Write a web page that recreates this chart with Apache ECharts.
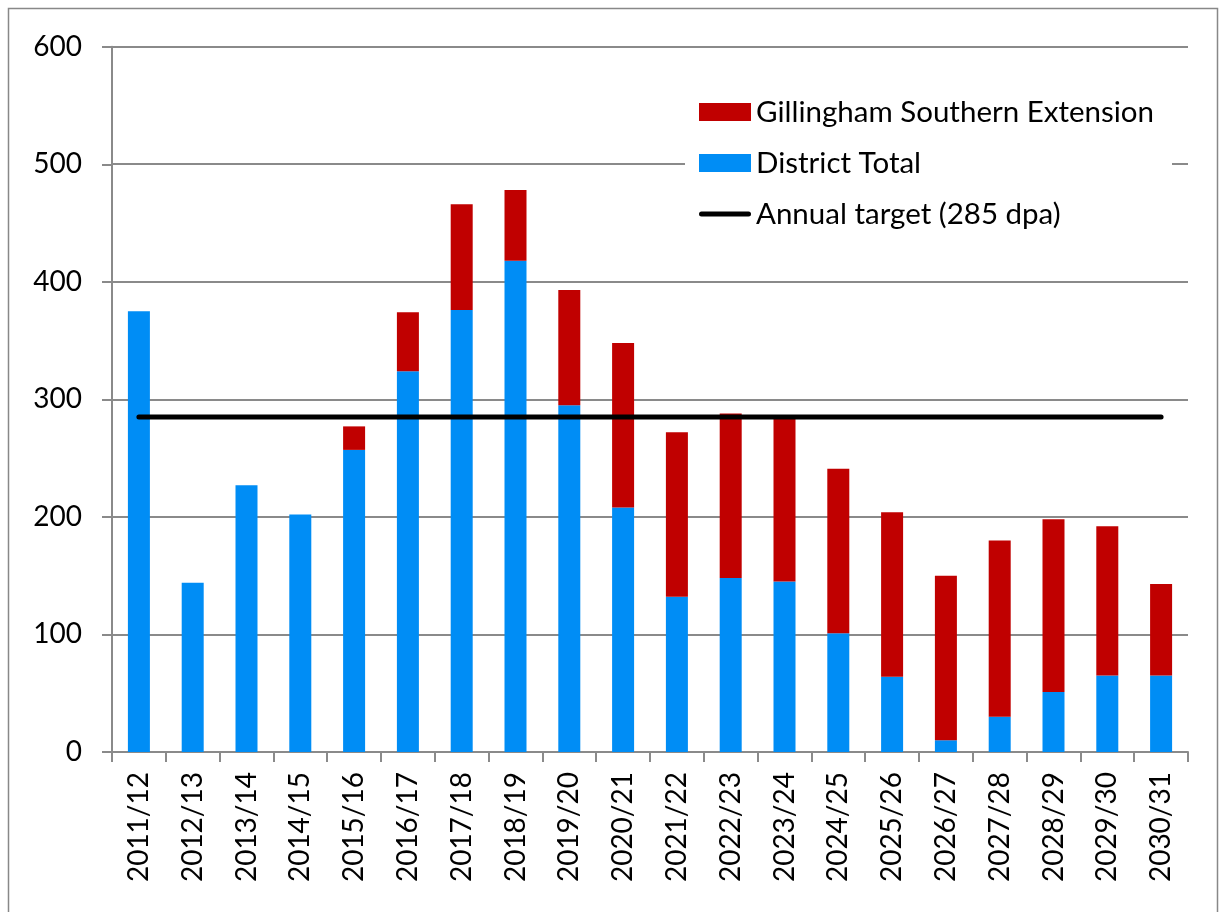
<!DOCTYPE html>
<html>
<head>
<meta charset="utf-8">
<script src="https://cdn.jsdelivr.net/npm/echarts@6/dist/echarts.min.js"></script>
<style>
html,body{margin:0;padding:0;background:#fff;}
#c{width:1219px;height:912px;}
</style>
</head>
<body>
<div id="c"></div>
<script>
const categories = ['2011/12','2012/13','2013/14','2014/15','2015/16','2016/17','2017/18','2018/19','2019/20','2020/21','2021/22','2022/23','2023/24','2024/25','2025/26','2026/27','2027/28','2028/29','2029/30','2030/31'];
const districtTotal = [375,144,227,202,257,324,376,418,295,208,132,148,145,101,64,10,30,51,65,65];
const gillingham = [0,0,0,0,20,50,90,60,98,140,140,140,140,140,140,140,150,147,127,78];
const annualTarget = [285,285,285,285,285,285,285,285,285,285,285,285,285,285,285,285,285,285,285,285];
const yTicks = [0,100,200,300,400,500,600];

const FONT = 'Lato';
const chart = echarts.init(document.getElementById('c'), null, {renderer:'canvas'});
chart.setOption({
  animation:false,
  backgroundColor:'#fff',
  textStyle:{fontFamily:FONT},
  graphic:[{type:'rect',shape:{x:8.5,y:8.5,width:1209,height:920},style:{fill:'none',stroke:'#888',lineWidth:1.5},silent:true,z:-1}],
  grid:{left:112,right:31,top:46.7,bottom:160,containLabel:false,outerBoundsMode:'none'},
  legend:{
    orient:'vertical',left:685,top:87,itemWidth:52,itemHeight:18,itemGap:21,
    padding:[10,18,10,14],backgroundColor:'#fff',z:10,
    textStyle:{fontFamily:FONT,fontSize:29.5,color:'#000',lineHeight:30},
    data:[
      {name:'Gillingham Southern Extension',icon:'rect'},
      {name:'District Total',icon:'rect'},
      {name:'Annual target (285 dpa)',icon:'path://M0,0M52,18M2.5,6.5L49.5,6.5A2.5,2.5,0,0,1,49.5,11.5L2.5,11.5A2.5,2.5,0,0,1,2.5,6.5Z'}
    ]
  },
  xAxis:{
    type:'category',data:categories,boundaryGap:true,
    axisLine:{lineStyle:{color:'#8a8a8a',width:2}},
    axisTick:{show:true,length:10,lineStyle:{color:'#8a8a8a',width:2},alignWithLabel:false},
    axisLabel:{rotate:90,interval:0,margin:20,fontFamily:FONT,fontSize:28,color:'#000'},
    splitLine:{show:false}
  },
  yAxis:{
    type:'value',min:yTicks[0],max:yTicks[yTicks.length-1],interval:100,
    axisLine:{show:true,lineStyle:{color:'#8a8a8a',width:2}},
    axisTick:{show:true,length:10,lineStyle:{color:'#8a8a8a',width:2}},
    axisLabel:{margin:30,fontFamily:FONT,fontSize:28,color:'#000'},
    splitLine:{show:true,lineStyle:{color:'#8a8a8a',width:2}}
  },
  series:[
    {name:'District Total',type:'bar',stack:'s',data:districtTotal,barWidth:22,
     itemStyle:{color:'#008DF5'}},
    {name:'Gillingham Southern Extension',type:'bar',stack:'s',data:gillingham,barWidth:22,
     itemStyle:{color:'#C00000'}},
    {name:'Annual target (285 dpa)',type:'line',data:annualTarget,symbol:'none',
     lineStyle:{color:'#000',width:5,cap:'round'},itemStyle:{color:'#000'},z:5}
  ]
});
</script>
</body>
</html>
